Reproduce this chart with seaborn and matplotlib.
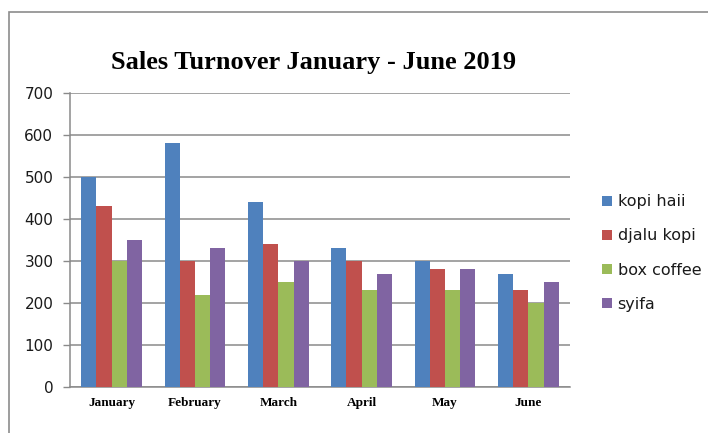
import matplotlib
matplotlib.use("Agg")
import matplotlib.pyplot as plt
import matplotlib.patches as mpatches
import seaborn as sns
import pandas as pd

months = ["January", "February", "March", "April", "May", "June"]
series = ["kopi haii", "djalu kopi", "box coffee", "syifa"]
kopi_haii = [500, 580, 440, 330, 300, 270]
djalu_kopi = [430, 300, 340, 300, 280, 230]
box_coffee = [300, 220, 250, 230, 230, 200]
syifa = [350, 330, 300, 270, 280, 250]
colors = ["#4F81BD", "#C0504D", "#9BBB59", "#8064A2"]
yticks = [0, 100, 200, 300, 400, 500, 600, 700]
title = "Sales Turnover January - June 2019"

rows = []
for name, vals in zip(series, [kopi_haii, djalu_kopi, box_coffee, syifa]):
    for m, v in zip(months, vals):
        rows.append({"Month": m, "Series": name, "Value": v})
df = pd.DataFrame(rows)

sns.set_style("white")
plt.rcParams["font.family"] = ["DejaVu Sans"]

fig = plt.figure(figsize=(7.08, 4.33), dpi=100)
W, H = 708, 433
ax = fig.add_axes([70 / W, 1 - 387 / H, 500 / W, 294 / H])

# outer chart border
fig.patches.append(mpatches.Rectangle((9 / W, -0.1), 1.2, (1 - 12 / H) + 0.1,
                                      transform=fig.transFigure, fill=False,
                                      edgecolor="#8c8c8c", linewidth=1.2))

sns.barplot(data=df, x="Month", y="Value", hue="Series", order=months,
            hue_order=series, palette=colors, width=0.73, gap=0,
            saturation=1, ax=ax, legend=False, zorder=3, linewidth=0,
            edgecolor="none")

ax.set_xlim(-0.5, 5.5)
ax.set_ylim(0, 700)
ax.set_yticks(yticks)
ax.set_yticklabels([str(t) for t in yticks], fontsize=11, color="#1a1a1a")
ax.yaxis.grid(True, color="#8a8a8a", linewidth=1.1, zorder=0)
ax.set_axisbelow(True)
ax.set_xlabel("")
ax.set_ylabel("")

ax.set_xticks(range(len(months)))
ax.set_xticklabels(months, fontsize=9.5, fontweight="bold",
                   family="Liberation Serif", color="#000000")
ax.tick_params(axis="x", which="major", length=0, pad=7)
ax.set_xticks([i - 0.5 for i in range(len(months) + 1)], minor=True)
ax.tick_params(axis="x", which="minor", length=5, color="#8a8a8a", width=1)
ax.tick_params(axis="y", which="major", length=5, color="#8a8a8a", width=1,
               left=True, pad=7)

for s in ["top", "right"]:
    ax.spines[s].set_visible(False)
for s in ["left", "bottom"]:
    ax.spines[s].set_color("#8a8a8a")
    ax.spines[s].set_linewidth(1.1)

fig.text(314 / W, 1 - 62 / H, title, ha="center", va="center",
         fontsize=19, fontweight="bold", family="Liberation Serif",
         color="#000000")

handles = [mpatches.Patch(facecolor=c, edgecolor="none") for c in colors]
fig.legend(handles, series, loc="center left",
           bbox_to_anchor=(588 / W, 1 - 253 / H), frameon=False,
           fontsize=11.5, handlelength=0.6, handleheight=0.6,
           handletextpad=0.35, labelspacing=1.2, labelcolor="#1a1a1a")

fig.savefig("out.png", dpi=100)
